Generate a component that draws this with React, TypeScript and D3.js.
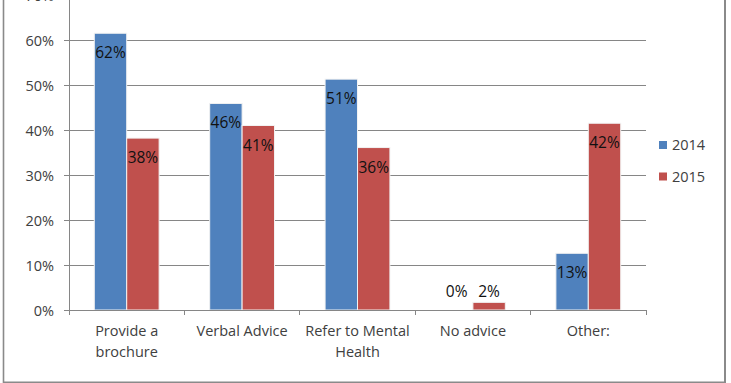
import React from "react";
import * as d3 from "d3";

const categories = ["Provide a brochure", "Verbal Advice", "Refer to Mental Health", "No advice", "Other:"];
const seriesNames = ["2014", "2015"];
const values2014 = [61.5, 45.9, 51.3, 0, 12.6];
const values2015 = [38.2, 41.0, 36.1, 1.7, 41.5];
const labels2014 = ["62%", "46%", "51%", "0%", "13%"];
const labels2015 = ["38%", "41%", "36%", "2%", "42%"];
const yTicks = [0, 10, 20, 30, 40, 50, 60, 70];
const colors = ["#4F81BD", "#C0504D"];

const W = 731;
const H = 383;
const FONT = "'Open Sans', sans-serif";

function wrap(text: string, maxW: number, font: string): string[] {
  const c = document.createElement("canvas").getContext("2d");
  if (!c) return [text];
  c.font = font;
  const words = text.split(" ");
  const lines: string[] = [];
  let cur = "";
  for (const w of words) {
    const t = cur ? cur + " " + w : w;
    if (c.measureText(t).width > maxW && cur) {
      lines.push(cur);
      cur = w;
    } else cur = t;
  }
  if (cur) lines.push(cur);
  return lines;
}

export default function App() {
  const x0 = d3.scaleBand<string>().domain(categories).range([69, 646]).paddingInner(0).paddingOuter(0);
  const x1 = d3.scaleBand<string>().domain(seriesNames).range([0, x0.bandwidth()]).paddingInner(0).paddingOuter(0.78);
  const y = d3.scaleLinear().domain([0, 70]).range([310, -5]);
  const series = [
    { name: seriesNames[0], values: values2014, labels: labels2014, color: colors[0] },
    { name: seriesNames[1], values: values2015, labels: labels2015, color: colors[1] },
  ];
  const axisColor = "#868686";
  const textColor = "#404040";
  const y0 = y(0);

  return (
    <div style={{ position: "absolute", left: 0, top: 0 }}>
      <svg width={W} height={H} style={{ display: "block", background: "#fff" }} fontFamily={FONT}>
        {/* gridlines */}
        {yTicks.map((t) => (
          <line key={"g" + t} x1={64} x2={646} y1={y(t)} y2={y(t)} stroke={axisColor} strokeWidth={1} shapeRendering="crispEdges" />
        ))}
        {/* y tick labels */}
        {yTicks.map((t) => (
          <text key={"yl" + t} x={54} y={y(t) + 6.3} textAnchor="end" fontSize={14.5} fill={textColor}>
            {t + "%"}
          </text>
        ))}
        {/* bars */}
        {series.map((s) =>
          categories.map((c, i) => {
            const bx = (x0(c) ?? 0) + (x1(s.name) ?? 0);
            const bw = x1.bandwidth();
            const top = y(s.values[i]);
            return (
              <rect key={s.name + c} x={bx} y={top} width={bw} height={Math.max(0, y0 - top)} fill={s.color} stroke="#f2f2f2" strokeWidth={1} />
            );
          })
        )}
        {/* axes */}
        <line x1={69} x2={69} y1={0} y2={315} stroke={axisColor} strokeWidth={1} shapeRendering="crispEdges" />
        <line x1={64} x2={646} y1={y0} y2={y0} stroke={axisColor} strokeWidth={1} shapeRendering="crispEdges" />
        {categories.map((c) => (
          <line key={"t" + c} x1={(x0(c) ?? 0) + x0.bandwidth()} x2={(x0(c) ?? 0) + x0.bandwidth()} y1={y0} y2={315} stroke={axisColor} strokeWidth={1} shapeRendering="crispEdges" />
        ))}
        {/* data labels */}
        {series.map((s) =>
          categories.map((c, i) => {
            const cx = (x0(c) ?? 0) + (x1(s.name) ?? 0) + x1.bandwidth() / 2;
            const top = y(s.values[i]);
            const by = y0 - top < 30 ? y0 - 12.7 : top + 25;
            return (
              <text key={"dl" + s.name + c} x={cx} y={by} textAnchor="middle" fontSize={15.5} fill="#111">
                {s.labels[i]}
              </text>
            );
          })
        )}
        {/* category labels */}
        {categories.map((c) => {
          const lines = wrap(c, 112, `14.5px ${FONT}`);
          const cx = (x0(c) ?? 0) + x0.bandwidth() / 2;
          return (
            <text key={"cl" + c} x={cx} textAnchor="middle" fontSize={14.5} fill={textColor}>
              {lines.map((l, j) => (
                <tspan key={j} x={cx} y={336 + j * 20.5}>
                  {l}
                </tspan>
              ))}
            </text>
          );
        })}
        {/* legend */}
        {series.map((s, i) => (
          <g key={"lg" + s.name} transform={`translate(659, ${145 + i * 31.5})`}>
            <rect x={0} y={-4} width={8} height={8} fill={s.color} />
            <text x={13} y={5.2} fontSize={14.5} fill={textColor}>
              {s.name}
            </text>
          </g>
        ))}
        {/* outer frame */}
        <line x1={3.5} x2={3.5} y1={0} y2={383} stroke="#8a8a8a" strokeWidth={1.6} />
        <line x1={725} x2={725} y1={0} y2={383} stroke="#8a8a8a" strokeWidth={2} />
        <line x1={3} x2={726} y1={382.3} y2={382.3} stroke="#8a8a8a" strokeWidth={1.5} />
      </svg>
    </div>
  );
}
